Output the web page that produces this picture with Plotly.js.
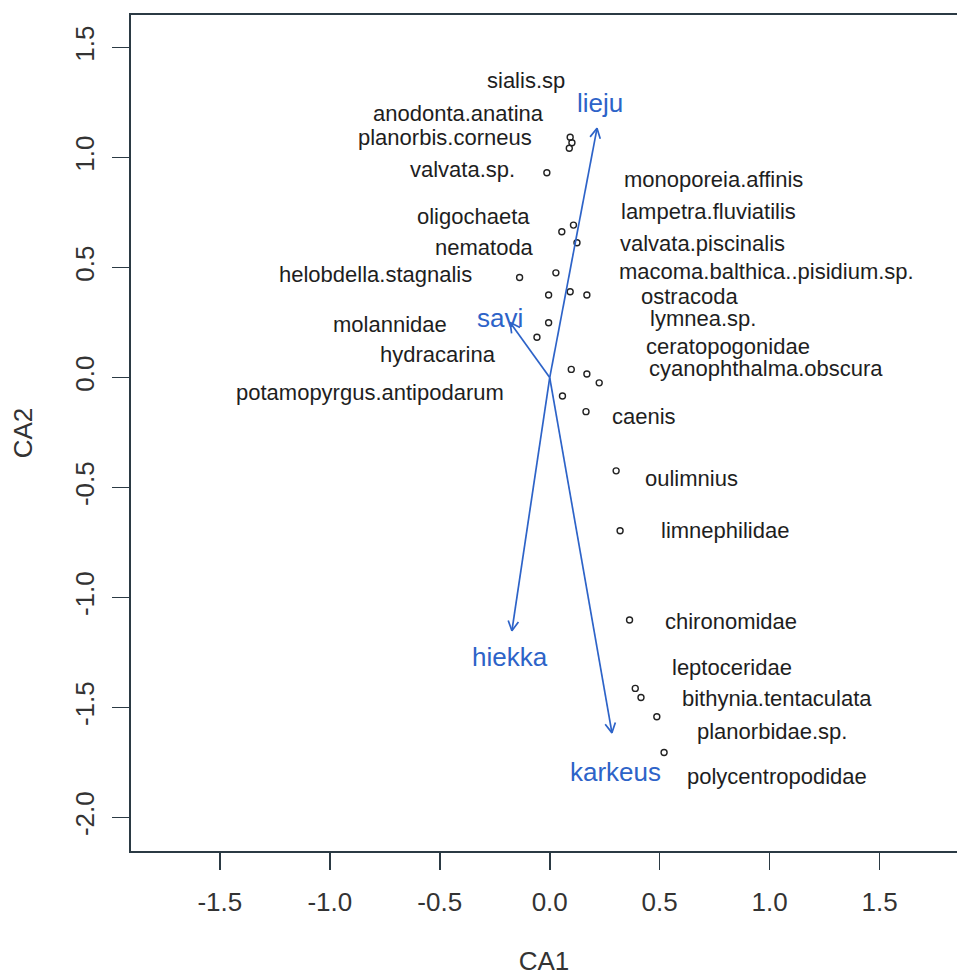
<!DOCTYPE html>
<html>
<head>
<meta charset="utf-8">
<script src="https://cdn.plot.ly/plotly-3.0.1.min.js"></script>
<style>html,body{margin:0;padding:0;background:#fff;}#chart{width:957px;height:976px;}</style>
</head>
<body>
<div id="chart"></div>
<script>
// Species scores (CA1, CA2)
const species = ["sialis.sp","anodonta.anatina","planorbis.corneus","valvata.sp.","oligochaeta","nematoda",
  "helobdella.stagnalis","molannidae","hydracarina","potamopyrgus.antipodarum",
  "monoporeia.affinis","lampetra.fluviatilis","valvata.piscinalis","macoma.balthica..pisidium.sp.",
  "ostracoda","lymnea.sp.","ceratopogonidae","cyanophthalma.obscura","caenis","oulimnius",
  "limnephilidae","chironomidae","leptoceridae","bithynia.tentaculata","planorbidae.sp.","polycentropodidae"];
const ca1 = [0.093,0.101,0.089,-0.013,0.055,0.124,-0.137,-0.005,-0.058,0.058,
  0.108,0.028,-0.005,0.093,0.169,0.098,0.169,0.225,0.165,0.302,0.320,0.363,0.389,0.415,0.487,0.520];
const ca2 = [1.092,1.067,1.042,0.931,0.663,0.613,0.455,0.249,0.183,-0.084,
  0.693,0.476,0.375,0.390,0.375,0.037,0.016,-0.024,-0.155,-0.424,-0.696,-1.102,-1.413,-1.454,-1.542,-1.704];
// Species label placement (data coords) and anchor side
const labX = [0.080,-0.016,-0.070,-0.149,-0.080,-0.063,-0.343,-0.457,-0.234,-0.198,
  0.328,0.316,0.311,0.307,0.408,0.448,0.430,0.442,0.275,0.426,0.495,0.516,0.548,0.593,0.661,0.616];
const labY = [1.352,1.202,1.089,0.948,0.730,0.589,0.470,0.243,0.107,-0.070,
  0.902,0.754,0.611,0.481,0.367,0.270,0.140,0.043,-0.178,-0.458,-0.696,-1.110,-1.320,-1.457,-1.610,-1.815];
const labSide = ["right","right","right","right","right","right","right","right","right","right",
  "left","left","left","left","left","left","left","left","left","left","left","left","left","left","left","left"];
// Environmental vectors
const envNames = ["lieju","savi","hiekka","karkeus"];
const envCA1 = [0.215,-0.180,-0.172,0.283];
const envCA2 = [1.133,0.250,-1.151,-1.615];
const envLabX = [0.230,-0.225,-0.182,0.298];
const envLabY = [1.248,0.270,-1.269,-1.792];
// Axis ticks
const xTicks = [-1.5,-1.0,-0.5,0.0,0.5,1.0,1.5];
const yTicks = [-2.0,-1.5,-1.0,-0.5,0.0,0.5,1.0,1.5];

const FONT = "Liberation Sans, Arial, sans-serif";
const BLUE = "#2d63c8";
const TXT = "#1e1e1e";

const traces = [];
traces.push({
  type: "scatter", mode: "markers", x: ca1, y: ca2, text: species, hoverinfo: "text",
  marker: {symbol: "circle-open", size: 6, color: "#222", line: {width: 1.4, color: "#222"}},
  showlegend: false
});
// arrows
const headLen = 0.05, headAng = 28 * Math.PI / 180;
envNames.forEach((n, i) => {
  const tx = envCA1[i], ty = envCA2[i];
  const a = Math.atan2(ty, tx);
  const h1x = tx - headLen * Math.cos(a - headAng), h1y = ty - headLen * Math.sin(a - headAng);
  const h2x = tx - headLen * Math.cos(a + headAng), h2y = ty - headLen * Math.sin(a + headAng);
  traces.push({
    type: "scatter", mode: "lines", x: [0, tx, null, h1x, tx, h2x], y: [0, ty, null, h1y, ty, h2y],
    line: {color: BLUE, width: 1.7}, hoverinfo: "skip", showlegend: false
  });
});

const annotations = [];
species.forEach((s, i) => {
  annotations.push({x: labX[i], y: labY[i], xref: "x", yref: "y", text: s, showarrow: false,
    xanchor: labSide[i], yanchor: "middle", font: {family: FONT, size: 22, color: TXT}});
});
envNames.forEach((n, i) => {
  annotations.push({x: envLabX[i], y: envLabY[i], xref: "x", yref: "y", text: n, showarrow: false,
    xanchor: "center", yanchor: "middle", font: {family: FONT, size: 26, color: BLUE}});
});

const layout = {
  width: 957, height: 976,
  margin: {l: 131, r: 0, t: 15, b: 125},
  paper_bgcolor: "#fff", plot_bgcolor: "#fff",
  font: {family: FONT, color: TXT},
  xaxis: {
    range: [-1.904, 1.852], showgrid: false, zeroline: false,
    showline: true, mirror: true, linecolor: "#2b3a44", linewidth: 1.6,
    ticks: "outside", ticklen: 17, tickwidth: 1.6, tickcolor: "#2b3a44",
    tickvals: xTicks, ticktext: xTicks.map(v => v.toFixed(1)),
    tickfont: {family: FONT, size: 26, color: "#333"}, ticklabelstandoff: 10,
    title: {text: "CA1", font: {family: FONT, size: 26, color: "#333"}, standoff: 37},
    automargin: false
  },
  yaxis: {
    range: [-2.152, 1.648], showgrid: false, zeroline: false,
    showline: true, linecolor: "#2b3a44", linewidth: 1.6,
    ticks: "outside", ticklen: 17, tickwidth: 1.6, tickcolor: "#2b3a44",
    tickvals: yTicks, ticktext: yTicks.map(v => v.toFixed(1)), tickangle: -90,
    tickfont: {family: FONT, size: 26, color: "#333"}, ticklabelstandoff: 8,
    title: {text: "CA2", font: {family: FONT, size: 26, color: "#333"}, standoff: 30},
    automargin: false
  },
  annotations: annotations,
  showlegend: false
};
Plotly.newPlot("chart", traces, layout, {staticPlot: true, displayModeBar: false});
</script>
</body>
</html>
